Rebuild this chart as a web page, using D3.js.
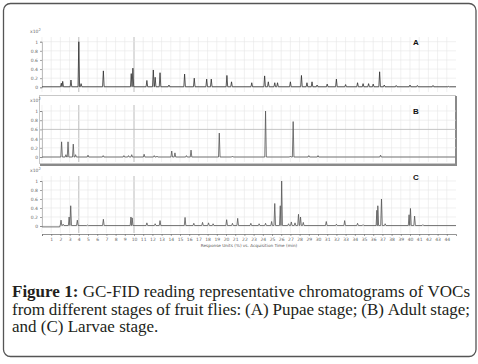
<!DOCTYPE html>
<html>
<head>
<meta charset="utf-8">
<script src="https://cdn.jsdelivr.net/npm/d3@7"></script>
<style>
  html, body { margin: 0; padding: 0; background: #fff; }
  svg { display: block; }
</style>
</head>
<body>
<div id="chart"></div>
<script>
// GC-FID chromatograms, response x10^2 vs acquisition time (min)
// peaks as [time (min), height]
const pupaePeaks = [
  [2.1, 0.09], [2.25, 0.13], [3.15, 0.16], [4.0, 1.0], [4.25, 0.08], [6.67, 0.36],
  [9.7, 0.3], [9.88, 0.42], [11.4, 0.15], [12.1, 0.38], [12.3, 0.22], [12.83, 0.32],
  [13.8, 0.05], [15.5, 0.29], [16.55, 0.2], [17.9, 0.18], [18.4, 0.18], [20.1, 0.26],
  [20.6, 0.12], [22.8, 0.1], [24.2, 0.25], [24.6, 0.12], [25.3, 0.1], [25.6, 0.1],
  [27.0, 0.12], [28.2, 0.26], [28.8, 0.1], [29.35, 0.12], [29.9, 0.05], [31.0, 0.07],
  [32.0, 0.18], [33.0, 0.06], [34.3, 0.1], [34.9, 0.08], [35.5, 0.08], [36.0, 0.07],
  [36.7, 0.34], [37.2, 0.05], [38.5, 0.04], [40.0, 0.05], [40.8, 0.04], [42.5, 0.04],
  [44.2, 0.02]
];
const adultPeaks = [
  [2.13, 0.33], [2.6, 0.05], [2.83, 0.33], [3.4, 0.28], [3.65, 0.05], [5.0, 0.04],
  [6.65, 0.03], [8.9, 0.03], [9.4, 0.03], [9.75, 0.05], [11.1, 0.06], [12.2, 0.03],
  [12.5, 0.02], [14.1, 0.13], [14.45, 0.09], [15.7, 0.03], [16.2, 0.15], [19.27, 0.52],
  [20.7, 0.02], [24.3, 1.0], [27.0, 0.02], [27.3, 0.77], [29.0, 0.03], [30.0, 0.03],
  [36.8, 0.04]
];
const larvaePeaks = [
  [2.07, 0.13], [2.3, 0.04], [2.95, 0.2], [3.12, 0.45], [3.84, 0.13], [4.95, 0.02],
  [6.67, 0.15], [9.67, 0.2], [9.8, 0.18], [11.4, 0.07], [12.3, 0.05], [12.83, 0.12],
  [15.55, 0.19], [16.5, 0.06], [17.45, 0.08], [18.1, 0.07], [18.6, 0.05], [20.07, 0.14],
  [20.7, 0.06], [21.27, 0.17], [22.7, 0.06], [23.6, 0.05], [24.3, 0.06], [24.96, 0.1],
  [25.3, 0.5], [25.9, 0.45], [26.05, 1.0], [26.8, 0.05], [27.1, 0.09], [27.5, 0.07],
  [27.88, 0.26], [28.1, 0.2], [28.4, 0.08], [30.9, 0.1], [32.0, 0.04], [32.9, 0.12],
  [34.3, 0.06], [34.9, 0.03], [36.4, 0.35], [36.5, 0.45], [36.9, 0.6], [37.3, 0.05],
  [39.9, 0.25], [40.05, 0.39], [40.5, 0.22], [41.4, 0.03]
];
// baseline level steps: [start time, level]
const pupaeBaseline = [[0, 0.012]];
const adultBaseline = [[0, 0.0]];
const larvaeBaseline = [[0, -0.02], [1.95, 0.01]];

const panelLetters = ["A", "B", "C"];
const yTicks = [0, 0.2, 0.4, 0.6, 0.8, 1];
const yTickLabels = ["0", "0.2", "0.4", "0.6", "0.8", "1"];
const xTicks = d3.range(0, 45);
const xAxisTitle = "Response Units (%) vs. Acquisition Time (min)";
const captionBold = "Figure 1:";
const captionLines = [
  "GC-FID reading representative chromatograms of VOCs",
  "from different stages of fruit flies: (A) Pupae stage; (B) Adult stage;",
  "and (C) Larvae stage."
];

const W = 478, H = 364;
const SMALL = "'DejaVu Sans', Arial, sans-serif";
const SERIF = "'Liberation Serif', 'Times New Roman', serif";

const svg = d3.select("#chart").append("svg").attr("width", W).attr("height", H);
svg.append("rect").attr("width", W).attr("height", H).attr("fill", "#fff");

// outer figure frame
svg.append("rect").attr("x", 3.5).attr("y", 3.5).attr("width", 472.5).attr("height", 353)
  .attr("rx", 7).attr("fill", "none").attr("stroke", "#555").attr("stroke-width", 1.3);

const x = d3.scaleLinear().domain([0, 45]).range([42, 456]);
const HW = 0.085; // peak half width (min)

function baseAt(steps, t) {
  let lev = steps[0][1];
  steps.forEach(s => { if (t >= s[0]) lev = s[1]; });
  return lev;
}

function tracePoints(peaks, steps) {
  const pts = [[0, steps[0][1]], [45, steps[steps.length - 1][1]]];
  steps.slice(1).forEach(s => {
    pts.push([s[0] - 0.02, baseAt(steps, s[0] - 0.05)]);
    pts.push([s[0], s[1]]);
  });
  peaks.forEach(([t, h]) => {
    const b = baseAt(steps, t);
    pts.push([t - HW, b], [t, h], [t + HW, b]);
  });
  return pts.sort((a, b) => a[0] - b[0]);
}

const panels = [
  { peaks: pupaePeaks, base: pupaeBaseline, y0: 87.3, y1: 41.7, top: 37, bot: 92, unitY: 33, letterY: 45, stroke: "#2e2e2e" },
  { peaks: adultPeaks, base: adultBaseline, y0: 157, y1: 111, top: 105, bot: 162, unitY: 102, letterY: 114, stroke: "#555", boxed: true },
  { peaks: larvaePeaks, base: larvaeBaseline, y0: 226, y1: 181, top: 176, bot: 233, unitY: 172, letterY: 180, stroke: "#555", axis: true }
];

panels.forEach((p, i) => {
  const y = d3.scaleLinear().domain([0, 1]).range([p.y0, p.y1]);
  const g = svg.append("g");

  if (p.boxed) {
    g.append("rect").attr("x", 39.5).attr("y", 95.5).attr("width", 416).attr("height", 68)
      .attr("fill", "#fff").attr("stroke", "#c8c8c8").attr("stroke-width", 1);
    g.append("path").attr("d", `M456,96V165H40`).attr("fill", "none")
      .attr("stroke", "#8a8a8a").attr("stroke-width", 2);
  }

  // grid
  g.selectAll(".vg").data(xTicks).join("line")
    .attr("x1", d => x(d)).attr("x2", d => x(d))
    .attr("y1", p.top).attr("y2", p.bot)
    .attr("stroke", d => (d === 4 || d === 10) ? "#b4b4b4" : "#e6e6e6")
    .attr("stroke-width", d => (d === 4 || d === 10) ? 0.9 : 0.6);
  g.selectAll(".hg").data(yTicks).join("line")
    .attr("x1", x(0)).attr("x2", x(45))
    .attr("y1", d => y(d)).attr("y2", d => y(d))
    .attr("stroke", d => (p.boxed && d === 0.6) ? "#bdbdbd" : "#e6e6e6")
    .attr("stroke-width", d => (p.boxed && d === 0.6) ? 0.9 : 0.6);

  // y axis
  const yAxis = d3.axisLeft(y).tickValues(yTicks).tickSize(2).tickPadding(2)
    .tickFormat((d, k) => yTickLabels[k]);
  const ya = g.append("g").attr("transform", `translate(${x(0)},0)`).call(yAxis);
  ya.select(".domain").attr("stroke", "#999").attr("stroke-width", 0.6);
  ya.selectAll(".tick line").attr("stroke", "#666").attr("stroke-width", 0.6);
  ya.selectAll("text").attr("font-size", 4.5).attr("font-family", SMALL).attr("fill", "#666");

  const unit = g.append("text").attr("x", 30).attr("y", p.unitY)
    .attr("font-size", 4.5).attr("font-family", SMALL).attr("fill", "#666").text("x10");
  unit.append("tspan").attr("dy", -1.6).attr("font-size", 3.6).text("2");

  // trace
  const line = d3.line().x(d => x(d[0])).y(d => y(d[1]));
  g.append("path").datum(tracePoints(p.peaks, p.base))
    .attr("d", line).attr("fill", "none")
    .attr("stroke", p.stroke).attr("stroke-width", 0.8).attr("stroke-linejoin", "round");

  // panel letter
  g.append("text").attr("x", 416).attr("y", p.letterY).attr("text-anchor", "middle")
    .attr("font-size", 8).attr("font-weight", "bold").attr("font-family", "'Liberation Sans', Arial, sans-serif")
    .attr("fill", "#111").text(panelLetters[i]);

  if (p.axis) {
    const xAxis = d3.axisBottom(x).tickValues(xTicks).tickSize(2).tickPadding(2)
      .tickFormat(d => d === 0 ? "" : d);
    const xa = g.append("g").attr("transform", `translate(0,${p.bot + 1})`).call(xAxis);
    xa.select(".domain").attr("stroke", "#666").attr("stroke-width", 0.7);
    xa.selectAll(".tick line").attr("stroke", "#666").attr("stroke-width", 0.6);
    xa.selectAll("text").attr("font-size", 4.5).attr("font-family", SMALL).attr("fill", "#666");
    g.append("text").attr("x", 249).attr("y", p.bot + 14).attr("text-anchor", "middle")
      .attr("font-size", 4.2).attr("font-family", SMALL).attr("fill", "#555").text(xAxisTitle);
  }
});

// caption, justified like the journal layout
const cap = svg.append("g").attr("font-family", SERIF).attr("font-size", 17).attr("fill", "#231f20");
const capLeft = 12, capRight = 470, capBase = [297, 314.5, 332];

function placeLine(words, yy, justify) {
  const nodes = words.map(w => cap.append("text").attr("y", yy)
    .attr("font-weight", w.bold ? "bold" : null).text(w.text));
  const widths = nodes.map(n => n.node().getComputedTextLength());
  const space = 4.25;
  let gap = space;
  if (justify && nodes.length > 1) {
    gap = (capRight - capLeft - d3.sum(widths)) / (nodes.length - 1);
  }
  let cx = capLeft;
  nodes.forEach((n, k) => { n.attr("x", cx); cx += widths[k] + gap; });
}

captionLines.forEach((ln, k) => {
  let words = ln.split(" ").map(t => ({ text: t, bold: false }));
  if (k === 0) words = captionBold.split(" ").map(t => ({ text: t, bold: true })).concat(words);
  placeLine(words, capBase[k], k < captionLines.length - 1);
});
</script>
</body>
</html>
